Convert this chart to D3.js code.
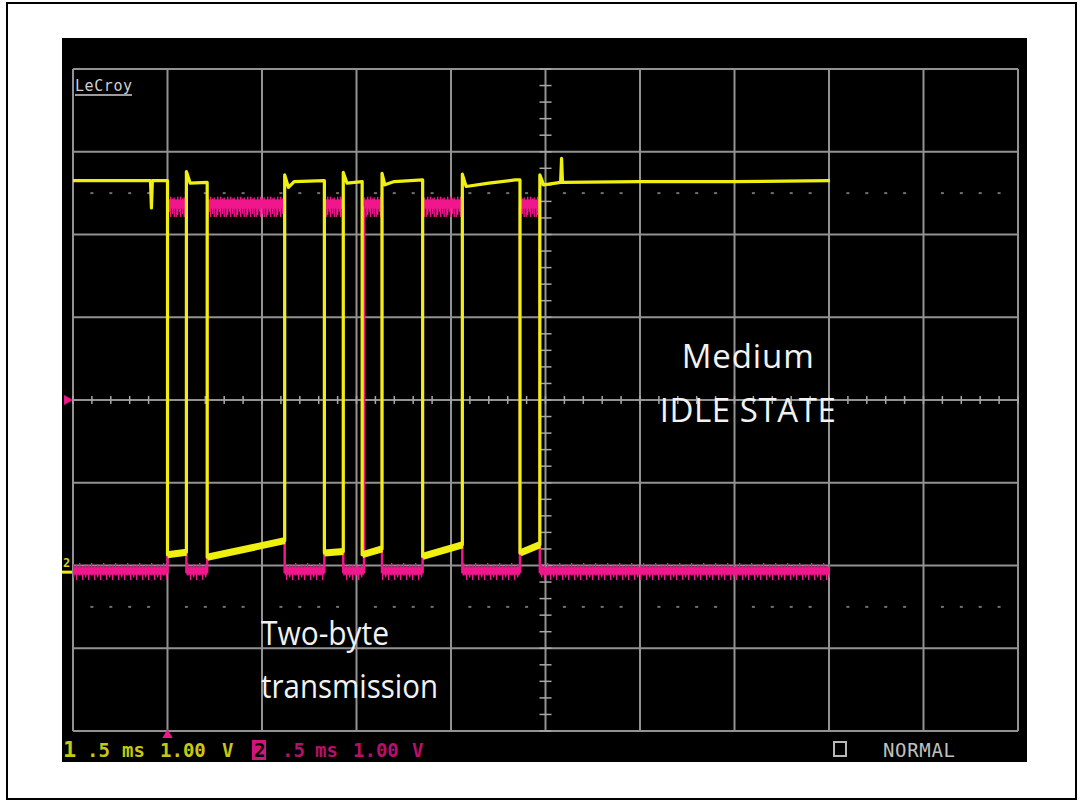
<!DOCTYPE html>
<html>
<head>
<meta charset="UTF-8">
<title>Two-byte transmission</title>
<script src="https://cdn.jsdelivr.net/npm/d3@7"></script>
<style>
  body { margin: 0; background: #fff; }
  svg { display: block; }
</style>
</head>
<body>
<div id="scope"></div>
<script>
// ---- data (time in ms, level in screen volts) ----
var gridTimes = [-2.5, -2, -1.5, -1, -0.5, 0, 0.5, 1, 1.5, 2, 2.5];
var gridVolts = [-4, -3, -2, -1, 0, 1, 2, 3, 4];
var dottedVolts = [2.5, -2.5];

// channel 1 (yellow)
var ch1Time = [-2.5, -2.09, -2.085, -2.08, -2.0, -2.0, -1.9, -1.9, -1.88, -1.79, -1.79, -1.38, -1.38, -1.36, -1.33,
               -1.17, -1.17, -1.07, -1.07, -1.05, -0.97, -0.97, -0.865, -0.865, -0.85, -0.8, -0.65, -0.65, -0.44,
               -0.44, -0.42, -0.3, -0.16, -0.135, -0.135, -0.03, -0.03, -0.01, 0.08, 0.085, 0.09, 0.5, 1.0, 1.505];
var ch1Volt = [2.65, 2.65, 2.32, 2.65, 2.65, -1.87, -1.84, 2.76, 2.62, 2.63, -1.9, -1.7, 2.72, 2.57, 2.64,
               2.65, -1.85, -1.83, 2.75, 2.62, 2.64, -1.87, -1.8, 2.74, 2.6, 2.64, 2.66, -1.89, -1.75,
               2.73, 2.58, 2.62, 2.66, 2.66, -1.85, -1.75, 2.72, 2.6, 2.63, 2.92, 2.63, 2.64, 2.64, 2.65];

// channel 2 (magenta)
var ch2Time = [-2.5, -2.0, -2.0, -1.9, -1.9, -1.79, -1.79, -1.38, -1.38, -1.17, -1.17, -1.07, -1.07, -0.96,
               -0.96, -0.865, -0.865, -0.65, -0.65, -0.44, -0.44, -0.135, -0.135, -0.03, -0.03, 1.505];
var ch2Volt = [-2.08, -2.08, 2.33, 2.33, -2.08, -2.08, 2.33, 2.33, -2.08, -2.08, 2.33, 2.33, -2.08, -2.08,
               2.33, 2.33, -2.08, -2.08, 2.33, 2.33, -2.08, -2.08, 2.33, 2.33, -2.08, -2.08];

var ch1Labels = ["1", ".5", "ms", "1.00", "V"];
var ch2Labels = ["2", ".5", "ms", "1.00", "V"];
var statusLabels = ["0", "NORMAL"];
var brandLabel = "LeCroy";
var noteTop = ["Medium", "IDLE STATE"];
var noteBottom = ["Two-byte", "transmission"];

// ---- drawing ----
var W = 1082, H = 803;
var svg = d3.select("#scope").append("svg").attr("width", W).attr("height", H);

var x = d3.scaleLinear().domain([-2.5, 2.5]).range([73, 1018]);
var y = d3.scaleLinear().domain([-4, 4]).range([731, 69]);

var PINK = "#f0168c", YEL = "#f0f010";

svg.append("rect").attr("x", 7).attr("y", 3).attr("width", 1069).attr("height", 796)
   .attr("fill", "#fff").attr("stroke", "#000").attr("stroke-width", 2);

svg.append("rect").attr("x", 62).attr("y", 38).attr("width", 965).attr("height", 724).attr("fill", "#000");

// noise textures for the magenta levels
var defs = svg.append("defs");
var bandH = y(2.2) - y(2.46);
var pHigh = defs.append("pattern").attr("id", "noiseHigh").attr("patternUnits", "userSpaceOnUse")
   .attr("x", 0).attr("y", y(2.46)).attr("width", 10).attr("height", bandH);
pHigh.append("rect").attr("x", 0).attr("y", 3).attr("width", 10).attr("height", 9).attr("fill", PINK);
[[0, 0, bandH - 1], [2, 2, bandH - 6], [3.5, 1, bandH - 2], [5.5, 4, bandH - 5], [7, 0, bandH - 3], [8.6, 3, bandH - 9]]
  .forEach(function (d) {
    pHigh.append("rect").attr("x", d[0]).attr("y", d[1]).attr("width", 1.4).attr("height", d[2]).attr("fill", PINK);
  });
var lowH = y(-2.18) - y(-1.97);
var pLow = defs.append("pattern").attr("id", "noiseLow").attr("patternUnits", "userSpaceOnUse")
   .attr("x", 0).attr("y", y(-1.97)).attr("width", 12).attr("height", lowH);
pLow.append("rect").attr("x", 0).attr("y", 4).attr("width", 12).attr("height", 8).attr("fill", PINK);
[[1, 1, lowH - 4], [4, 2, lowH - 2], [7, 0, lowH - 5], [10, 3, lowH - 3]].forEach(function (d) {
  pLow.append("rect").attr("x", d[0]).attr("y", d[1]).attr("width", 1.4).attr("height", d[2]).attr("fill", PINK);
});

// graticule
var grid = svg.append("g").attr("stroke", "#929292").attr("stroke-width", 2);
grid.selectAll(".v").data(gridTimes).enter().append("line")
    .attr("x1", function (d) { return x(d); }).attr("x2", function (d) { return x(d); })
    .attr("y1", y(4)).attr("y2", y(-4));
grid.selectAll(".h").data(gridVolts).enter().append("line")
    .attr("x1", x(-2.5)).attr("x2", x(2.5))
    .attr("y1", function (d) { return y(d); }).attr("y2", function (d) { return y(d); });

// minor ticks on the centre axes
var minorT = d3.range(-2.5, 2.5001, 0.1);
var minorV = d3.range(-4, 4.0001, 0.2);
svg.append("g").attr("stroke", "#a8a8a8").attr("stroke-width", 1.5)
   .selectAll("line").data(minorV).enter().append("line")
   .attr("x1", x(0) - 6).attr("x2", x(0) + 6)
   .attr("y1", function (d) { return y(d); }).attr("y2", function (d) { return y(d); });
svg.append("g").attr("stroke", "#a8a8a8").attr("stroke-width", 1.5)
   .selectAll("line").data(minorT).enter().append("line")
   .attr("y1", y(0) - 4).attr("y2", y(0) + 4)
   .attr("x1", function (d) { return x(d); }).attr("x2", function (d) { return x(d); });

// dotted rows
dottedVolts.forEach(function (v) {
  svg.append("g").attr("fill", "#707070").selectAll("rect")
     .data(minorT.filter(function (t) { return Math.abs(t * 2 - Math.round(t * 2)) > 0.01; }))
     .enter().append("rect")
     .attr("x", function (d) { return x(d) - 1.5; }).attr("y", y(v) - 1)
     .attr("width", 3).attr("height", 2);
});

// traces
var line = d3.line().x(function (d) { return x(d[0]); }).y(function (d) { return y(d[1]); });
var ch2 = d3.zip(ch2Time, ch2Volt);
var ch1 = d3.zip(ch1Time, ch1Volt);

svg.append("path").datum(ch2).attr("d", line).attr("fill", "none")
   .attr("stroke", PINK).attr("stroke-width", 2.5);
for (var i = 0; i < ch2.length - 1; i++) {
  var a = ch2[i], b = ch2[i + 1];
  if (a[0] === b[0]) continue;
  var hi = a[1] > 0;
  svg.append("rect").attr("x", x(a[0])).attr("width", x(b[0]) - x(a[0]))
     .attr("y", hi ? y(2.46) : y(-1.97))
     .attr("height", hi ? bandH : lowH)
     .attr("fill", hi ? "url(#noiseHigh)" : "url(#noiseLow)");
}

svg.append("path").datum(ch1).attr("d", line).attr("fill", "none")
   .attr("stroke", YEL).attr("stroke-width", 3.2).attr("stroke-linejoin", "round");
for (var j = 0; j < ch1.length - 1; j++) {
  var p = ch1[j], q = ch1[j + 1];
  if (p[0] === q[0] || p[1] > 0 || q[1] > 0) continue;
  svg.append("line").attr("x1", x(p[0])).attr("x2", x(q[0])).attr("y1", y(p[1])).attr("y2", y(q[1]))
     .attr("stroke", YEL).attr("stroke-width", 7);
}

// markers
svg.append("path").attr("d", d3.symbol().type(d3.symbolTriangle).size(45)())
   .attr("transform", "translate(67," + y(0) + ") rotate(90)").attr("fill", PINK);
svg.append("path").attr("d", d3.symbol().type(d3.symbolTriangle).size(45)())
   .attr("transform", "translate(" + x(-2.0) + "," + (y(-4) + 4) + ")").attr("fill", PINK);
svg.append("rect").attr("x", 62).attr("y", y(-2.08) - 1.5).attr("width", 10).attr("height", 3).attr("fill", YEL);
svg.append("text").attr("x", 63).attr("y", y(-2.08) - 5).text("2")
   .attr("font-family", "DejaVu Sans Mono").attr("font-size", 12).attr("font-weight", "bold").attr("fill", "#d8d020");

// brand
svg.append("text").attr("x", 75).attr("y", 91).text(brandLabel)
   .attr("font-family", "DejaVu Sans Mono").attr("font-size", 15).attr("textLength", 57)
   .attr("fill", "#d0d0d0");
svg.append("line").attr("x1", 75).attr("x2", 132).attr("y1", 95).attr("y2", 95)
   .attr("stroke", "#d0d0d0").attr("stroke-width", 1.5);

// bottom status line
var mono = "DejaVu Sans Mono";
var c1x = [63, 87, 122, 160, 222];
var c2x = [253, 282, 315, 353, 412];
ch1Labels.forEach(function (t, k) {
  svg.append("text").attr("x", c1x[k]).attr("y", 757).text(t).attr("font-family", mono)
     .attr("font-size", k === 0 ? 22 : 19).attr("font-weight", "bold").attr("fill", "#c8c812");
});
svg.append("rect").attr("x", 252).attr("y", 740).attr("width", 14).attr("height", 20).attr("fill", "#d0157f");
ch2Labels.forEach(function (t, k) {
  svg.append("text").attr("x", c2x[k] + (k === 0 ? 1 : 0)).attr("y", 757).text(t).attr("font-family", mono)
     .attr("font-size", 19).attr("font-weight", "bold").attr("fill", k === 0 ? "#000" : "#b8106a");
});
svg.append("rect").attr("x", 834).attr("y", 742).attr("width", 12).attr("height", 14)
   .attr("fill", "none").attr("stroke", "#b8b8b8").attr("stroke-width", 2);
svg.append("text").attr("x", 883).attr("y", 757).text(statusLabels[1]).attr("font-family", mono)
   .attr("font-size", 19).attr("textLength", 72).attr("fill", "#c0c0c0");

// annotations
var notes = svg.append("g").attr("font-family", "Open Sans").attr("font-size", 33)
   .attr("fill", "#f2f2f2");
notes.append("text").attr("x", x(1.07)).attr("y", y(0.39)).attr("text-anchor", "middle")
   .attr("textLength", 132).attr("lengthAdjust", "spacing").text(noteTop[0]);
notes.append("text").attr("x", x(1.07)).attr("y", y(-0.26)).attr("text-anchor", "middle")
   .attr("textLength", 176).attr("lengthAdjust", "spacing").text(noteTop[1]);
notes.append("text").attr("x", x(-1.505)).attr("y", y(-2.96))
   .attr("textLength", 128).attr("lengthAdjust", "spacingAndGlyphs").text(noteBottom[0]);
notes.append("text").attr("x", x(-1.505)).attr("y", y(-3.6))
   .attr("textLength", 177).attr("lengthAdjust", "spacingAndGlyphs").text(noteBottom[1]);
</script>
</body>
</html>
